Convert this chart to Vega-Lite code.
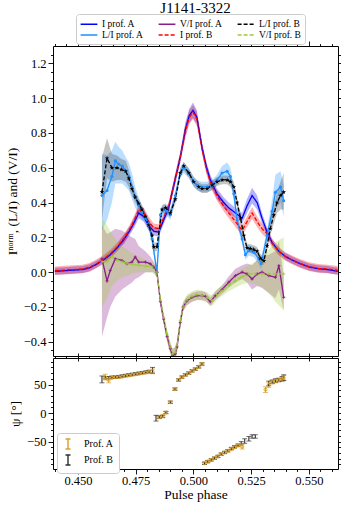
{
"$schema":"https://vega.github.io/schema/vega-lite/v6.json",
"padding":{"left":4,"right":0,"top":0,"bottom":0},
"background":"white",
"spacing":2,
"bounds":"flush",
"resolve":{"scale":{"color":"independent","fill":"independent","stroke":"independent","strokeDash":"independent"},"legend":{"color":"independent","strokeDash":"independent","fill":"independent","stroke":"independent"}},
"config":{
 "font":"Liberation Serif",
 "view":{"stroke":"#000","strokeWidth":1},
 "axis":{"grid":false,"domain":false,"ticks":true,"tickColor":"#000","tickWidth":0.9,"labelColor":"#000","titleColor":"#000","labelFont":"Liberation Serif","titleFont":"Liberation Serif","labelFontSize":12.5,"titleFontSize":13.5,"titleFontWeight":"normal","labelPadding":2,"tickSize":5},
 "legend":{"labelFont":"Liberation Serif","labelColor":"#000"},
 "title":{"font":"Liberation Serif","fontWeight":"normal","color":"#000"}
},
"datasets":{
"prof":[
{"ph":0.440,"s":"IA","v":0.005,"lo":-0.015,"hi":0.025},
{"ph":0.444,"s":"IA","v":0.008,"lo":-0.012,"hi":0.028},
{"ph":0.448,"s":"IA","v":0.012,"lo":-0.008,"hi":0.032},
{"ph":0.452,"s":"IA","v":0.015,"lo":-0.005,"hi":0.035},
{"ph":0.455,"s":"IA","v":0.025,"lo":0.005,"hi":0.045},
{"ph":0.458,"s":"IA","v":0.045,"lo":0.025,"hi":0.065},
{"ph":0.461,"s":"IA","v":0.07,"lo":0.05,"hi":0.09},
{"ph":0.464,"s":"IA","v":0.10,"lo":0.08,"hi":0.12},
{"ph":0.467,"s":"IA","v":0.14,"lo":0.12,"hi":0.16},
{"ph":0.470,"s":"IA","v":0.19,"lo":0.165,"hi":0.215},
{"ph":0.4725,"s":"IA","v":0.24,"lo":0.215,"hi":0.265},
{"ph":0.4745,"s":"IA","v":0.29,"lo":0.26,"hi":0.32},
{"ph":0.4763,"s":"IA","v":0.34,"lo":0.31,"hi":0.37},
{"ph":0.4785,"s":"IA","v":0.32,"lo":0.29,"hi":0.35},
{"ph":0.4806,"s":"IA","v":0.27,"lo":0.24,"hi":0.30},
{"ph":0.4828,"s":"IA","v":0.235,"lo":0.21,"hi":0.26},
{"ph":0.4850,"s":"IA","v":0.23,"lo":0.205,"hi":0.255},
{"ph":0.4871,"s":"IA","v":0.30,"lo":0.275,"hi":0.325},
{"ph":0.4893,"s":"IA","v":0.37,"lo":0.345,"hi":0.395},
{"ph":0.4915,"s":"IA","v":0.50,"lo":0.47,"hi":0.53},
{"ph":0.4943,"s":"IA","v":0.66,"lo":0.63,"hi":0.69},
{"ph":0.4965,"s":"IA","v":0.82,"lo":0.78,"hi":0.86},
{"ph":0.4982,"s":"IA","v":0.90,"lo":0.86,"hi":0.94},
{"ph":0.4998,"s":"IA","v":0.93,"lo":0.885,"hi":0.975},
{"ph":0.5015,"s":"IA","v":0.89,"lo":0.85,"hi":0.93},
{"ph":0.5037,"s":"IA","v":0.72,"lo":0.69,"hi":0.75},
{"ph":0.5055,"s":"IA","v":0.61,"lo":0.58,"hi":0.64},
{"ph":0.5073,"s":"IA","v":0.53,"lo":0.50,"hi":0.56},
{"ph":0.5102,"s":"IA","v":0.45,"lo":0.42,"hi":0.48},
{"ph":0.5131,"s":"IA","v":0.40,"lo":0.37,"hi":0.43},
{"ph":0.5153,"s":"IA","v":0.37,"lo":0.34,"hi":0.40},
{"ph":0.5182,"s":"IA","v":0.34,"lo":0.31,"hi":0.37},
{"ph":0.5211,"s":"IA","v":0.31,"lo":0.28,"hi":0.34},
{"ph":0.5232,"s":"IA","v":0.38,"lo":0.34,"hi":0.42},
{"ph":0.5254,"s":"IA","v":0.44,"lo":0.395,"hi":0.485},
{"ph":0.5276,"s":"IA","v":0.40,"lo":0.36,"hi":0.44},
{"ph":0.5297,"s":"IA","v":0.31,"lo":0.28,"hi":0.34},
{"ph":0.5319,"s":"IA","v":0.23,"lo":0.205,"hi":0.255},
{"ph":0.5341,"s":"IA","v":0.17,"lo":0.15,"hi":0.19},
{"ph":0.5370,"s":"IA","v":0.12,"lo":0.10,"hi":0.14},
{"ph":0.5398,"s":"IA","v":0.09,"lo":0.07,"hi":0.11},
{"ph":0.5427,"s":"IA","v":0.07,"lo":0.05,"hi":0.09},
{"ph":0.546,"s":"IA","v":0.05,"lo":0.03,"hi":0.07},
{"ph":0.550,"s":"IA","v":0.03,"lo":0.01,"hi":0.05},
{"ph":0.554,"s":"IA","v":0.02,"lo":0.0,"hi":0.04},
{"ph":0.558,"s":"IA","v":0.015,"lo":-0.005,"hi":0.035},
{"ph":0.5625,"s":"IA","v":0.005,"lo":-0.015,"hi":0.025},
{"ph":0.4604,"s":"LA","v":0.44,"lo":0.24,"hi":0.68},
{"ph":0.4626,"s":"LA","v":0.47,"lo":0.30,"hi":0.67},
{"ph":0.4647,"s":"LA","v":0.55,"lo":0.40,"hi":0.70},
{"ph":0.4662,"s":"LA","v":0.64,"lo":0.51,"hi":0.75},
{"ph":0.4677,"s":"LA","v":0.62,"lo":0.51,"hi":0.72},
{"ph":0.4692,"s":"LA","v":0.61,"lo":0.51,"hi":0.70},
{"ph":0.4707,"s":"LA","v":0.58,"lo":0.49,"hi":0.66},
{"ph":0.4720,"s":"LA","v":0.55,"lo":0.47,"hi":0.63},
{"ph":0.4734,"s":"LA","v":0.49,"lo":0.42,"hi":0.57},
{"ph":0.4748,"s":"LA","v":0.43,"lo":0.37,"hi":0.49},
{"ph":0.4763,"s":"LA","v":0.385,"lo":0.34,"hi":0.43},
{"ph":0.4777,"s":"LA","v":0.345,"lo":0.31,"hi":0.385},
{"ph":0.4792,"s":"LA","v":0.31,"lo":0.28,"hi":0.345},
{"ph":0.4806,"s":"LA","v":0.28,"lo":0.25,"hi":0.31},
{"ph":0.4821,"s":"LA","v":0.19,"lo":0.16,"hi":0.22},
{"ph":0.4842,"s":"LA","v":0.0,"lo":-0.025,"hi":0.03},
{"ph":0.4857,"s":"LA","v":0.33,"lo":0.30,"hi":0.36},
{"ph":0.4871,"s":"LA","v":0.36,"lo":0.33,"hi":0.39},
{"ph":0.4886,"s":"LA","v":0.35,"lo":0.32,"hi":0.38},
{"ph":0.4900,"s":"LA","v":0.33,"lo":0.30,"hi":0.36},
{"ph":0.4922,"s":"LA","v":0.44,"lo":0.41,"hi":0.47},
{"ph":0.4943,"s":"LA","v":0.57,"lo":0.54,"hi":0.60},
{"ph":0.4958,"s":"LA","v":0.60,"lo":0.57,"hi":0.63},
{"ph":0.4980,"s":"LA","v":0.57,"lo":0.54,"hi":0.60},
{"ph":0.5001,"s":"LA","v":0.52,"lo":0.49,"hi":0.55},
{"ph":0.5016,"s":"LA","v":0.50,"lo":0.47,"hi":0.53},
{"ph":0.5037,"s":"LA","v":0.49,"lo":0.46,"hi":0.52},
{"ph":0.5059,"s":"LA","v":0.49,"lo":0.46,"hi":0.52},
{"ph":0.5081,"s":"LA","v":0.50,"lo":0.47,"hi":0.53},
{"ph":0.5102,"s":"LA","v":0.53,"lo":0.50,"hi":0.56},
{"ph":0.5124,"s":"LA","v":0.57,"lo":0.53,"hi":0.61},
{"ph":0.5146,"s":"LA","v":0.58,"lo":0.54,"hi":0.63},
{"ph":0.5160,"s":"LA","v":0.55,"lo":0.51,"hi":0.60},
{"ph":0.5175,"s":"LA","v":0.45,"lo":0.41,"hi":0.49},
{"ph":0.5189,"s":"LA","v":0.30,"lo":0.27,"hi":0.33},
{"ph":0.5211,"s":"LA","v":0.19,"lo":0.16,"hi":0.22},
{"ph":0.5225,"s":"LA","v":0.10,"lo":0.07,"hi":0.13},
{"ph":0.5240,"s":"LA","v":0.125,"lo":0.095,"hi":0.155},
{"ph":0.5261,"s":"LA","v":0.115,"lo":0.085,"hi":0.145},
{"ph":0.5283,"s":"LA","v":0.077,"lo":0.045,"hi":0.11},
{"ph":0.5293,"s":"LA","v":0.048,"lo":0.015,"hi":0.08},
{"ph":0.5319,"s":"LA","v":0.21,"lo":0.17,"hi":0.25},
{"ph":0.5341,"s":"LA","v":0.35,"lo":0.28,"hi":0.42},
{"ph":0.5355,"s":"LA","v":0.46,"lo":0.36,"hi":0.56},
{"ph":0.5377,"s":"LA","v":0.49,"lo":0.40,"hi":0.58},
{"ph":0.5391,"s":"LA","v":0.41,"lo":0.32,"hi":0.50},
{"ph":0.4604,"s":"VA","v":0.077,"lo":-0.37,"hi":0.27},
{"ph":0.4626,"s":"VA","v":-0.05,"lo":-0.26,"hi":0.22},
{"ph":0.4640,"s":"VA","v":0.01,"lo":-0.20,"hi":0.23},
{"ph":0.4662,"s":"VA","v":0.077,"lo":-0.14,"hi":0.25},
{"ph":0.4691,"s":"VA","v":0.067,"lo":-0.10,"hi":0.24},
{"ph":0.4712,"s":"VA","v":0.048,"lo":-0.08,"hi":0.22},
{"ph":0.4734,"s":"VA","v":0.058,"lo":-0.06,"hi":0.20},
{"ph":0.4748,"s":"VA","v":0.087,"lo":-0.04,"hi":0.19},
{"ph":0.4763,"s":"VA","v":0.058,"lo":-0.03,"hi":0.15},
{"ph":0.4792,"s":"VA","v":0.058,"lo":0.0,"hi":0.12},
{"ph":0.4813,"s":"VA","v":0.048,"lo":0.0,"hi":0.09},
{"ph":0.4828,"s":"VA","v":0.03,"lo":0.0,"hi":0.06},
{"ph":0.4842,"s":"VA","v":0.0,"lo":-0.03,"hi":0.03},
{"ph":0.4857,"s":"VA","v":-0.17,"lo":-0.20,"hi":-0.14},
{"ph":0.4871,"s":"VA","v":-0.27,"lo":-0.30,"hi":-0.24},
{"ph":0.4886,"s":"VA","v":-0.37,"lo":-0.40,"hi":-0.34},
{"ph":0.4900,"s":"VA","v":-0.44,"lo":-0.47,"hi":-0.41},
{"ph":0.4910,"s":"VA","v":-0.48,"lo":-0.52,"hi":-0.44},
{"ph":0.4922,"s":"VA","v":-0.47,"lo":-0.51,"hi":-0.43},
{"ph":0.4929,"s":"VA","v":-0.43,"lo":-0.46,"hi":-0.40},
{"ph":0.4943,"s":"VA","v":-0.29,"lo":-0.32,"hi":-0.26},
{"ph":0.4955,"s":"VA","v":-0.20,"lo":-0.225,"hi":-0.175},
{"ph":0.4972,"s":"VA","v":-0.165,"lo":-0.19,"hi":-0.14},
{"ph":0.4994,"s":"VA","v":-0.145,"lo":-0.17,"hi":-0.12},
{"ph":0.5016,"s":"VA","v":-0.135,"lo":-0.16,"hi":-0.11},
{"ph":0.5037,"s":"VA","v":-0.135,"lo":-0.16,"hi":-0.11},
{"ph":0.5052,"s":"VA","v":-0.14,"lo":-0.165,"hi":-0.115},
{"ph":0.5073,"s":"VA","v":-0.17,"lo":-0.195,"hi":-0.145},
{"ph":0.5095,"s":"VA","v":-0.135,"lo":-0.16,"hi":-0.11},
{"ph":0.5124,"s":"VA","v":-0.10,"lo":-0.125,"hi":-0.075},
{"ph":0.5153,"s":"VA","v":-0.058,"lo":-0.09,"hi":-0.025},
{"ph":0.5182,"s":"VA","v":-0.02,"lo":-0.06,"hi":0.02},
{"ph":0.5211,"s":"VA","v":0.0,"lo":-0.04,"hi":0.04},
{"ph":0.5232,"s":"VA","v":-0.01,"lo":-0.06,"hi":0.05},
{"ph":0.5254,"s":"VA","v":-0.04,"lo":-0.10,"hi":0.04},
{"ph":0.5276,"s":"VA","v":-0.01,"lo":-0.08,"hi":0.07},
{"ph":0.5297,"s":"VA","v":0.0,"lo":-0.09,"hi":0.09},
{"ph":0.5326,"s":"VA","v":-0.02,"lo":-0.12,"hi":0.10},
{"ph":0.5355,"s":"VA","v":-0.03,"lo":-0.15,"hi":0.12},
{"ph":0.5370,"s":"VA","v":0.038,"lo":-0.10,"hi":0.18},
{"ph":0.5391,"s":"VA","v":-0.145,"lo":-0.22,"hi":-0.03},
{"ph":0.440,"s":"IB","v":0.008,"lo":-0.017,"hi":0.033},
{"ph":0.444,"s":"IB","v":0.012,"lo":-0.013,"hi":0.037},
{"ph":0.448,"s":"IB","v":0.015,"lo":-0.01,"hi":0.04},
{"ph":0.452,"s":"IB","v":0.018,"lo":-0.007,"hi":0.043},
{"ph":0.455,"s":"IB","v":0.028,"lo":0.003,"hi":0.053},
{"ph":0.458,"s":"IB","v":0.048,"lo":0.023,"hi":0.073},
{"ph":0.461,"s":"IB","v":0.073,"lo":0.048,"hi":0.098},
{"ph":0.464,"s":"IB","v":0.105,"lo":0.08,"hi":0.13},
{"ph":0.467,"s":"IB","v":0.145,"lo":0.12,"hi":0.17},
{"ph":0.470,"s":"IB","v":0.195,"lo":0.17,"hi":0.22},
{"ph":0.4725,"s":"IB","v":0.25,"lo":0.225,"hi":0.275},
{"ph":0.4745,"s":"IB","v":0.30,"lo":0.27,"hi":0.33},
{"ph":0.4763,"s":"IB","v":0.36,"lo":0.33,"hi":0.39},
{"ph":0.4785,"s":"IB","v":0.34,"lo":0.31,"hi":0.37},
{"ph":0.4806,"s":"IB","v":0.29,"lo":0.26,"hi":0.32},
{"ph":0.4828,"s":"IB","v":0.255,"lo":0.23,"hi":0.28},
{"ph":0.4850,"s":"IB","v":0.25,"lo":0.225,"hi":0.275},
{"ph":0.4871,"s":"IB","v":0.31,"lo":0.285,"hi":0.335},
{"ph":0.4893,"s":"IB","v":0.38,"lo":0.355,"hi":0.405},
{"ph":0.4915,"s":"IB","v":0.50,"lo":0.47,"hi":0.53},
{"ph":0.4943,"s":"IB","v":0.66,"lo":0.63,"hi":0.69},
{"ph":0.4965,"s":"IB","v":0.81,"lo":0.77,"hi":0.85},
{"ph":0.4982,"s":"IB","v":0.89,"lo":0.85,"hi":0.93},
{"ph":0.4998,"s":"IB","v":0.92,"lo":0.88,"hi":0.96},
{"ph":0.5015,"s":"IB","v":0.88,"lo":0.84,"hi":0.92},
{"ph":0.5037,"s":"IB","v":0.71,"lo":0.68,"hi":0.74},
{"ph":0.5055,"s":"IB","v":0.60,"lo":0.57,"hi":0.63},
{"ph":0.5073,"s":"IB","v":0.52,"lo":0.49,"hi":0.55},
{"ph":0.5102,"s":"IB","v":0.44,"lo":0.41,"hi":0.47},
{"ph":0.5131,"s":"IB","v":0.38,"lo":0.35,"hi":0.41},
{"ph":0.5153,"s":"IB","v":0.34,"lo":0.31,"hi":0.37},
{"ph":0.5182,"s":"IB","v":0.29,"lo":0.26,"hi":0.32},
{"ph":0.5211,"s":"IB","v":0.24,"lo":0.21,"hi":0.27},
{"ph":0.5232,"s":"IB","v":0.29,"lo":0.26,"hi":0.32},
{"ph":0.5254,"s":"IB","v":0.34,"lo":0.305,"hi":0.375},
{"ph":0.5276,"s":"IB","v":0.29,"lo":0.26,"hi":0.32},
{"ph":0.5297,"s":"IB","v":0.25,"lo":0.22,"hi":0.28},
{"ph":0.5319,"s":"IB","v":0.22,"lo":0.195,"hi":0.245},
{"ph":0.5341,"s":"IB","v":0.165,"lo":0.14,"hi":0.19},
{"ph":0.5370,"s":"IB","v":0.12,"lo":0.095,"hi":0.145},
{"ph":0.5398,"s":"IB","v":0.09,"lo":0.065,"hi":0.115},
{"ph":0.5427,"s":"IB","v":0.07,"lo":0.045,"hi":0.095},
{"ph":0.546,"s":"IB","v":0.05,"lo":0.025,"hi":0.075},
{"ph":0.550,"s":"IB","v":0.032,"lo":0.007,"hi":0.057},
{"ph":0.554,"s":"IB","v":0.022,"lo":-0.003,"hi":0.047},
{"ph":0.558,"s":"IB","v":0.018,"lo":-0.007,"hi":0.043},
{"ph":0.5625,"s":"IB","v":0.01,"lo":-0.015,"hi":0.035},
{"ph":0.4604,"s":"LB","v":0.46,"lo":0.30,"hi":0.66},
{"ph":0.4626,"s":"LB","v":0.655,"lo":0.54,"hi":0.77},
{"ph":0.4647,"s":"LB","v":0.60,"lo":0.52,"hi":0.68},
{"ph":0.4669,"s":"LB","v":0.60,"lo":0.53,"hi":0.67},
{"ph":0.4688,"s":"LB","v":0.59,"lo":0.53,"hi":0.65},
{"ph":0.4707,"s":"LB","v":0.58,"lo":0.52,"hi":0.64},
{"ph":0.4720,"s":"LB","v":0.54,"lo":0.49,"hi":0.59},
{"ph":0.4734,"s":"LB","v":0.48,"lo":0.44,"hi":0.52},
{"ph":0.4748,"s":"LB","v":0.43,"lo":0.40,"hi":0.46},
{"ph":0.4763,"s":"LB","v":0.395,"lo":0.37,"hi":0.42},
{"ph":0.4777,"s":"LB","v":0.36,"lo":0.335,"hi":0.385},
{"ph":0.4792,"s":"LB","v":0.32,"lo":0.295,"hi":0.345},
{"ph":0.4806,"s":"LB","v":0.27,"lo":0.245,"hi":0.295},
{"ph":0.4821,"s":"LB","v":0.21,"lo":0.185,"hi":0.235},
{"ph":0.4828,"s":"LB","v":0.145,"lo":0.12,"hi":0.17},
{"ph":0.4842,"s":"LB","v":0.145,"lo":0.12,"hi":0.17},
{"ph":0.4864,"s":"LB","v":0.36,"lo":0.335,"hi":0.385},
{"ph":0.4879,"s":"LB","v":0.37,"lo":0.345,"hi":0.395},
{"ph":0.4900,"s":"LB","v":0.34,"lo":0.315,"hi":0.365},
{"ph":0.4922,"s":"LB","v":0.42,"lo":0.395,"hi":0.445},
{"ph":0.4943,"s":"LB","v":0.57,"lo":0.545,"hi":0.595},
{"ph":0.4958,"s":"LB","v":0.61,"lo":0.585,"hi":0.635},
{"ph":0.4980,"s":"LB","v":0.57,"lo":0.545,"hi":0.595},
{"ph":0.5001,"s":"LB","v":0.52,"lo":0.495,"hi":0.545},
{"ph":0.5023,"s":"LB","v":0.49,"lo":0.465,"hi":0.515},
{"ph":0.5037,"s":"LB","v":0.48,"lo":0.455,"hi":0.505},
{"ph":0.5059,"s":"LB","v":0.48,"lo":0.455,"hi":0.505},
{"ph":0.5081,"s":"LB","v":0.50,"lo":0.475,"hi":0.525},
{"ph":0.5102,"s":"LB","v":0.52,"lo":0.495,"hi":0.545},
{"ph":0.5124,"s":"LB","v":0.53,"lo":0.505,"hi":0.555},
{"ph":0.5146,"s":"LB","v":0.53,"lo":0.505,"hi":0.555},
{"ph":0.5160,"s":"LB","v":0.52,"lo":0.49,"hi":0.55},
{"ph":0.5175,"s":"LB","v":0.49,"lo":0.46,"hi":0.52},
{"ph":0.5189,"s":"LB","v":0.40,"lo":0.37,"hi":0.43},
{"ph":0.5204,"s":"LB","v":0.31,"lo":0.285,"hi":0.335},
{"ph":0.5218,"s":"LB","v":0.21,"lo":0.185,"hi":0.235},
{"ph":0.5232,"s":"LB","v":0.14,"lo":0.115,"hi":0.165},
{"ph":0.5247,"s":"LB","v":0.135,"lo":0.11,"hi":0.16},
{"ph":0.5261,"s":"LB","v":0.13,"lo":0.105,"hi":0.155},
{"ph":0.5276,"s":"LB","v":0.12,"lo":0.095,"hi":0.145},
{"ph":0.5290,"s":"LB","v":0.08,"lo":0.055,"hi":0.105},
{"ph":0.5305,"s":"LB","v":0.065,"lo":0.04,"hi":0.09},
{"ph":0.5319,"s":"LB","v":0.15,"lo":0.12,"hi":0.18},
{"ph":0.5333,"s":"LB","v":0.25,"lo":0.21,"hi":0.29},
{"ph":0.5348,"s":"LB","v":0.33,"lo":0.28,"hi":0.38},
{"ph":0.5362,"s":"LB","v":0.40,"lo":0.34,"hi":0.46},
{"ph":0.5377,"s":"LB","v":0.44,"lo":0.36,"hi":0.52},
{"ph":0.5391,"s":"LB","v":0.46,"lo":0.36,"hi":0.57},
{"ph":0.4604,"s":"VB","v":0.06,"lo":-0.20,"hi":0.31},
{"ph":0.4626,"s":"VB","v":0.06,"lo":-0.15,"hi":0.27},
{"ph":0.4647,"s":"VB","v":0.09,"lo":-0.08,"hi":0.22},
{"ph":0.4669,"s":"VB","v":0.07,"lo":-0.05,"hi":0.18},
{"ph":0.4691,"s":"VB","v":0.06,"lo":-0.03,"hi":0.15},
{"ph":0.4712,"s":"VB","v":0.05,"lo":-0.02,"hi":0.13},
{"ph":0.4734,"s":"VB","v":0.045,"lo":-0.01,"hi":0.11},
{"ph":0.4763,"s":"VB","v":0.04,"lo":0.0,"hi":0.09},
{"ph":0.4792,"s":"VB","v":0.035,"lo":0.0,"hi":0.07},
{"ph":0.4821,"s":"VB","v":0.03,"lo":0.0,"hi":0.06},
{"ph":0.4842,"s":"VB","v":0.0,"lo":-0.03,"hi":0.03},
{"ph":0.4857,"s":"VB","v":-0.16,"lo":-0.19,"hi":-0.13},
{"ph":0.4871,"s":"VB","v":-0.26,"lo":-0.29,"hi":-0.23},
{"ph":0.4886,"s":"VB","v":-0.36,"lo":-0.39,"hi":-0.33},
{"ph":0.4900,"s":"VB","v":-0.43,"lo":-0.46,"hi":-0.40},
{"ph":0.4910,"s":"VB","v":-0.47,"lo":-0.50,"hi":-0.44},
{"ph":0.4922,"s":"VB","v":-0.46,"lo":-0.49,"hi":-0.43},
{"ph":0.4929,"s":"VB","v":-0.42,"lo":-0.45,"hi":-0.39},
{"ph":0.4943,"s":"VB","v":-0.28,"lo":-0.31,"hi":-0.25},
{"ph":0.4955,"s":"VB","v":-0.20,"lo":-0.23,"hi":-0.17},
{"ph":0.4972,"s":"VB","v":-0.16,"lo":-0.19,"hi":-0.13},
{"ph":0.4994,"s":"VB","v":-0.14,"lo":-0.17,"hi":-0.11},
{"ph":0.5016,"s":"VB","v":-0.13,"lo":-0.16,"hi":-0.10},
{"ph":0.5037,"s":"VB","v":-0.135,"lo":-0.165,"hi":-0.105},
{"ph":0.5059,"s":"VB","v":-0.145,"lo":-0.175,"hi":-0.115},
{"ph":0.5081,"s":"VB","v":-0.165,"lo":-0.195,"hi":-0.135},
{"ph":0.5102,"s":"VB","v":-0.13,"lo":-0.16,"hi":-0.10},
{"ph":0.5124,"s":"VB","v":-0.105,"lo":-0.135,"hi":-0.075},
{"ph":0.5153,"s":"VB","v":-0.075,"lo":-0.11,"hi":-0.04},
{"ph":0.5182,"s":"VB","v":-0.05,"lo":-0.09,"hi":-0.01},
{"ph":0.5211,"s":"VB","v":-0.025,"lo":-0.07,"hi":0.02},
{"ph":0.5240,"s":"VB","v":-0.01,"lo":-0.06,"hi":0.04},
{"ph":0.5268,"s":"VB","v":-0.01,"lo":-0.07,"hi":0.06},
{"ph":0.5297,"s":"VB","v":-0.01,"lo":-0.09,"hi":0.09},
{"ph":0.5326,"s":"VB","v":-0.01,"lo":-0.12,"hi":0.13},
{"ph":0.5355,"s":"VB","v":-0.01,"lo":-0.17,"hi":0.17},
{"ph":0.5391,"s":"VB","v":-0.01,"lo":-0.22,"hi":0.20}
],
"pa":[
{"ph":0.4618,"p":"Prof. A","psi":63,"lo":58,"hi":68},
{"ph":0.4633,"p":"Prof. A","psi":58,"lo":53,"hi":63},
{"ph":0.4647,"p":"Prof. A","psi":62,"lo":60,"hi":64},
{"ph":0.4662,"p":"Prof. A","psi":63,"lo":61,"hi":65},
{"ph":0.4677,"p":"Prof. A","psi":63,"lo":61,"hi":65},
{"ph":0.4691,"p":"Prof. A","psi":64,"lo":62,"hi":66},
{"ph":0.4706,"p":"Prof. A","psi":65,"lo":63,"hi":67},
{"ph":0.4720,"p":"Prof. A","psi":66,"lo":64,"hi":68},
{"ph":0.4735,"p":"Prof. A","psi":67,"lo":65,"hi":69},
{"ph":0.4750,"p":"Prof. A","psi":68,"lo":66,"hi":70},
{"ph":0.4764,"p":"Prof. A","psi":69,"lo":67,"hi":71},
{"ph":0.4779,"p":"Prof. A","psi":70,"lo":68,"hi":72},
{"ph":0.4794,"p":"Prof. A","psi":71,"lo":69,"hi":73},
{"ph":0.4808,"p":"Prof. A","psi":72,"lo":70,"hi":75},
{"ph":0.4823,"p":"Prof. A","psi":73,"lo":69,"hi":77},
{"ph":0.4852,"p":"Prof. A","psi":-7,"lo":-10,"hi":-4},
{"ph":0.4867,"p":"Prof. A","psi":-5,"lo":-7,"hi":-3},
{"ph":0.4881,"p":"Prof. A","psi":1,"lo":-1,"hi":3},
{"ph":0.4900,"p":"Prof. A","psi":19,"lo":17,"hi":21},
{"ph":0.4920,"p":"Prof. A","psi":42,"lo":40,"hi":44},
{"ph":0.4936,"p":"Prof. A","psi":58,"lo":56,"hi":60},
{"ph":0.4950,"p":"Prof. A","psi":63,"lo":61,"hi":65},
{"ph":0.4965,"p":"Prof. A","psi":67,"lo":65,"hi":69},
{"ph":0.4980,"p":"Prof. A","psi":70,"lo":68,"hi":72},
{"ph":0.4994,"p":"Prof. A","psi":74,"lo":72,"hi":76},
{"ph":0.5008,"p":"Prof. A","psi":77,"lo":75,"hi":79},
{"ph":0.5023,"p":"Prof. A","psi":81,"lo":79,"hi":83},
{"ph":0.5037,"p":"Prof. A","psi":86,"lo":84,"hi":88},
{"ph":0.5048,"p":"Prof. A","psi":-88,"lo":-90,"hi":-86},
{"ph":0.5062,"p":"Prof. A","psi":-85,"lo":-87,"hi":-83},
{"ph":0.5077,"p":"Prof. A","psi":-82,"lo":-84,"hi":-80},
{"ph":0.5091,"p":"Prof. A","psi":-79,"lo":-81,"hi":-77},
{"ph":0.5106,"p":"Prof. A","psi":-76,"lo":-78,"hi":-74},
{"ph":0.5120,"p":"Prof. A","psi":-72,"lo":-74,"hi":-70},
{"ph":0.5135,"p":"Prof. A","psi":-69,"lo":-71,"hi":-67},
{"ph":0.5149,"p":"Prof. A","psi":-66,"lo":-68,"hi":-64},
{"ph":0.5164,"p":"Prof. A","psi":-63,"lo":-65,"hi":-61},
{"ph":0.5178,"p":"Prof. A","psi":-60,"lo":-62,"hi":-58},
{"ph":0.5193,"p":"Prof. A","psi":-57,"lo":-59,"hi":-55},
{"ph":0.5211,"p":"Prof. A","psi":-59,"lo":-63,"hi":-55},
{"ph":0.5312,"p":"Prof. A","psi":41,"lo":36,"hi":46},
{"ph":0.5326,"p":"Prof. A","psi":49,"lo":45,"hi":53},
{"ph":0.5341,"p":"Prof. A","psi":54,"lo":51,"hi":57},
{"ph":0.5355,"p":"Prof. A","psi":56,"lo":53,"hi":59},
{"ph":0.5370,"p":"Prof. A","psi":58,"lo":55,"hi":61},
{"ph":0.5384,"p":"Prof. A","psi":60,"lo":57,"hi":63},
{"ph":0.5391,"p":"Prof. A","psi":62,"lo":58,"hi":66},
{"ph":0.4604,"p":"Prof. B","psi":59,"lo":53,"hi":65},
{"ph":0.4618,"p":"Prof. B","psi":62,"lo":60,"hi":64},
{"ph":0.4633,"p":"Prof. B","psi":62,"lo":60,"hi":64},
{"ph":0.4647,"p":"Prof. B","psi":63,"lo":61,"hi":65},
{"ph":0.4662,"p":"Prof. B","psi":63,"lo":61,"hi":65},
{"ph":0.4677,"p":"Prof. B","psi":64,"lo":62,"hi":66},
{"ph":0.4691,"p":"Prof. B","psi":65,"lo":63,"hi":67},
{"ph":0.4706,"p":"Prof. B","psi":66,"lo":64,"hi":68},
{"ph":0.4720,"p":"Prof. B","psi":67,"lo":65,"hi":69},
{"ph":0.4735,"p":"Prof. B","psi":68,"lo":66,"hi":70},
{"ph":0.4750,"p":"Prof. B","psi":69,"lo":67,"hi":71},
{"ph":0.4764,"p":"Prof. B","psi":70,"lo":68,"hi":72},
{"ph":0.4779,"p":"Prof. B","psi":71,"lo":69,"hi":73},
{"ph":0.4794,"p":"Prof. B","psi":72,"lo":70,"hi":74},
{"ph":0.4808,"p":"Prof. B","psi":73,"lo":71,"hi":75},
{"ph":0.4823,"p":"Prof. B","psi":75,"lo":70,"hi":80},
{"ph":0.4838,"p":"Prof. B","psi":-9,"lo":-14,"hi":-4},
{"ph":0.4852,"p":"Prof. B","psi":-7,"lo":-9,"hi":-5},
{"ph":0.4867,"p":"Prof. B","psi":-6,"lo":-8,"hi":-4},
{"ph":0.4881,"p":"Prof. B","psi":1,"lo":-1,"hi":3},
{"ph":0.4900,"p":"Prof. B","psi":19,"lo":17,"hi":21},
{"ph":0.4920,"p":"Prof. B","psi":42,"lo":40,"hi":44},
{"ph":0.4936,"p":"Prof. B","psi":58,"lo":56,"hi":60},
{"ph":0.4950,"p":"Prof. B","psi":63,"lo":61,"hi":65},
{"ph":0.4965,"p":"Prof. B","psi":67,"lo":65,"hi":69},
{"ph":0.4980,"p":"Prof. B","psi":70,"lo":68,"hi":72},
{"ph":0.4994,"p":"Prof. B","psi":74,"lo":72,"hi":76},
{"ph":0.5008,"p":"Prof. B","psi":77,"lo":75,"hi":79},
{"ph":0.5023,"p":"Prof. B","psi":81,"lo":79,"hi":83},
{"ph":0.5037,"p":"Prof. B","psi":86,"lo":84,"hi":88},
{"ph":0.5048,"p":"Prof. B","psi":-88,"lo":-90,"hi":-86},
{"ph":0.5062,"p":"Prof. B","psi":-85,"lo":-87,"hi":-83},
{"ph":0.5077,"p":"Prof. B","psi":-82,"lo":-84,"hi":-80},
{"ph":0.5091,"p":"Prof. B","psi":-79,"lo":-81,"hi":-77},
{"ph":0.5106,"p":"Prof. B","psi":-76,"lo":-78,"hi":-74},
{"ph":0.5120,"p":"Prof. B","psi":-72,"lo":-74,"hi":-70},
{"ph":0.5135,"p":"Prof. B","psi":-69,"lo":-71,"hi":-67},
{"ph":0.5149,"p":"Prof. B","psi":-66,"lo":-68,"hi":-64},
{"ph":0.5164,"p":"Prof. B","psi":-62,"lo":-64,"hi":-60},
{"ph":0.5178,"p":"Prof. B","psi":-59,"lo":-61,"hi":-57},
{"ph":0.5193,"p":"Prof. B","psi":-56,"lo":-58,"hi":-54},
{"ph":0.5207,"p":"Prof. B","psi":-53,"lo":-56,"hi":-50},
{"ph":0.5222,"p":"Prof. B","psi":-49,"lo":-53,"hi":-45},
{"ph":0.5240,"p":"Prof. B","psi":-45,"lo":-49,"hi":-41},
{"ph":0.5254,"p":"Prof. B","psi":-41,"lo":-44,"hi":-38},
{"ph":0.5268,"p":"Prof. B","psi":-41,"lo":-44,"hi":-38},
{"ph":0.5326,"p":"Prof. B","psi":52,"lo":48,"hi":56},
{"ph":0.5341,"p":"Prof. B","psi":55,"lo":52,"hi":58},
{"ph":0.5355,"p":"Prof. B","psi":57,"lo":54,"hi":60},
{"ph":0.5370,"p":"Prof. B","psi":58,"lo":55,"hi":61},
{"ph":0.5384,"p":"Prof. B","psi":60,"lo":56,"hi":64},
{"ph":0.5391,"p":"Prof. B","psi":62,"lo":57,"hi":67}
]
},
"vconcat":[
{
 "width":285,"height":310,
 "title":{"text":"J1141-3322","fontSize":15,"offset":-2},
 "data":{"name":"prof"},
 "resolve":{"axis":{"x":"independent","y":"independent"}},
 "layer":[
  {"mark":{"type":"point","opacity":0},"encoding":{
   "x":{"field":"ph","type":"quantitative","scale":{"domain":[0.4392,0.5626],"nice":false,"zero":false},"axis":{"orient":"bottom","values":[0.45,0.475,0.5,0.525,0.55],"labels":false,"title":null}},
   "y":{"field":"v","type":"quantitative","scale":{"domain":[-0.482,1.3],"nice":false,"zero":false},"axis":{"orient":"left","values":[-0.4,-0.2,0,0.2,0.4,0.6,0.8,1,1.2],"format":".1f","title":"Iⁿᵒʳᵐ, (L/I) and (V/I)","titlePadding":4}}}},
  {"mark":{"type":"point","opacity":0},"encoding":{
   "x":{"field":"ph","type":"quantitative","scale":{"domain":[0.4392,0.5626],"nice":false,"zero":false},"axis":{"orient":"top","values":[0.45,0.475,0.5,0.525,0.55],"labels":false,"title":null}},
   "y":{"field":"v","type":"quantitative","scale":{"domain":[-0.482,1.3],"nice":false,"zero":false},"axis":{"orient":"right","values":[-0.4,-0.2,0,0.2,0.4,0.6,0.8,1,1.2],"labels":false,"title":null}}}},
  {"mark":{"type":"point","opacity":0},"encoding":{
   "x":{"field":"ph","type":"quantitative","scale":{"domain":[0.4392,0.5626],"nice":false,"zero":false},"axis":{"orient":"bottom","values":[0.44,0.445,0.455,0.46,0.465,0.47,0.48,0.485,0.49,0.495,0.505,0.51,0.515,0.52,0.53,0.535,0.54,0.545,0.555,0.56],"labels":false,"title":null,"tickSize":2.5}},
   "y":{"field":"v","type":"quantitative","scale":{"domain":[-0.482,1.3],"nice":false,"zero":false},"axis":{"orient":"left","values":[-0.45,-0.35,-0.3,-0.25,-0.15,-0.1,-0.05,0.05,0.1,0.15,0.25,0.3,0.35,0.45,0.5,0.55,0.65,0.7,0.75,0.85,0.9,0.95,1.05,1.1,1.15,1.25],"labels":false,"title":null,"tickSize":2.5}}}},
  {"mark":{"type":"point","opacity":0},"encoding":{
   "x":{"field":"ph","type":"quantitative","scale":{"domain":[0.4392,0.5626],"nice":false,"zero":false},"axis":{"orient":"top","values":[0.44,0.445,0.455,0.46,0.465,0.47,0.48,0.485,0.49,0.495,0.505,0.51,0.515,0.52,0.53,0.535,0.54,0.545,0.555,0.56],"labels":false,"title":null,"tickSize":2.5}},
   "y":{"field":"v","type":"quantitative","scale":{"domain":[-0.482,1.3],"nice":false,"zero":false},"axis":{"orient":"right","values":[-0.45,-0.35,-0.3,-0.25,-0.15,-0.1,-0.05,0.05,0.1,0.15,0.25,0.3,0.35,0.45,0.5,0.55,0.65,0.7,0.75,0.85,0.9,0.95,1.05,1.1,1.15,1.25],"labels":false,"title":null,"tickSize":2.5}}}},
  {"mark":{"type":"area","clip":true,"opacity":0.3},"encoding":{
   "x":{"field":"ph","type":"quantitative","scale":{"domain":[0.4392,0.5626],"nice":false,"zero":false},"axis":null},
   "y":{"field":"lo","type":"quantitative","scale":{"domain":[-0.482,1.3],"nice":false,"zero":false},"axis":null},
   "y2":{"field":"hi"},
   "fill":{"field":"s","type":"nominal","scale":{"domain":["IA","LA","VA","IB","LB","VB"],"range":["#0000ff","#1e90ff","#8b1a8b","#ff0000","#404040","#9acd32"]},"legend":null}}},
  {"mark":{"type":"line","clip":true,"strokeWidth":1.3},"encoding":{
   "x":{"field":"ph","type":"quantitative","scale":{"domain":[0.4392,0.5626],"nice":false,"zero":false},"axis":null},
   "y":{"field":"v","type":"quantitative","scale":{"domain":[-0.482,1.3],"nice":false,"zero":false},"axis":null},
   "color":{"field":"s","type":"nominal","scale":{"domain":["IA","VA","LB","LA","IB","VB"],"range":["#0000ff","#8b1a8b","#000000","#1e90ff","#ff0000","#9acd32"]},
     "legend":{"orient":"none","legendX":23,"legendY":-32,"direction":"horizontal","columns":3,"title":null,"symbolType":"M-1.6,0H1.6","symbolSize":110,"symbolStrokeWidth":1.5,"symbolOffset":3,"labelFontSize":9.5,"labelOffset":7,"columnPadding":11,"rowPadding":0,"padding":4,"strokeColor":"#cccccc","fillColor":"#ffffff","cornerRadius":3,
       "labelExpr":"datum.label=='IA'?'I prof. A':datum.label=='VA'?'V/I prof. A':datum.label=='LB'?'L/I prof. B':datum.label=='LA'?'L/I prof. A':datum.label=='IB'?'I prof. B':'V/I prof. B'"}},
   "strokeDash":{"field":"s","type":"nominal","scale":{"domain":["IA","VA","LB","LA","IB","VB"],"range":[[1,0],[1,0],[4,2],[1,0],[4,2],[4,2]]},
     "legend":{"orient":"none","legendX":23,"legendY":-32,"direction":"horizontal","columns":3,"title":null,"symbolType":"M-1.6,0H1.6","symbolSize":110,"symbolStrokeWidth":1.5,"symbolOffset":3,"labelFontSize":9.5,"labelOffset":7,"columnPadding":11,"rowPadding":0,"padding":4,"strokeColor":"#cccccc","fillColor":"#ffffff","cornerRadius":3,
       "labelExpr":"datum.label=='IA'?'I prof. A':datum.label=='VA'?'V/I prof. A':datum.label=='LB'?'L/I prof. B':datum.label=='LA'?'L/I prof. A':datum.label=='IB'?'I prof. B':'V/I prof. B'"}}}},
  {"transform":[{"filter":"datum.s=='LA'"}],"mark":{"type":"point","filled":true,"color":"#1e90ff","size":9,"opacity":1,"clip":true},"encoding":{
   "x":{"field":"ph","type":"quantitative","scale":{"domain":[0.4392,0.5626],"nice":false,"zero":false},"axis":null},
   "y":{"field":"v","type":"quantitative","scale":{"domain":[-0.482,1.3],"nice":false,"zero":false},"axis":null}}},
  {"transform":[{"filter":"datum.s=='VA'||datum.s=='VB'"}],"mark":{"type":"point","filled":false,"shape":"M0,-1V1M-1,0H1","size":10,"strokeWidth":0.8,"opacity":1,"clip":true},"encoding":{
   "x":{"field":"ph","type":"quantitative","scale":{"domain":[0.4392,0.5626],"nice":false,"zero":false},"axis":null},
   "y":{"field":"v","type":"quantitative","scale":{"domain":[-0.482,1.3],"nice":false,"zero":false},"axis":null},
   "stroke":{"field":"s","type":"nominal","scale":{"domain":["VA","VB"],"range":["#8b1a8b","#9acd32"]},"legend":null}}},
  {"transform":[{"filter":"datum.s=='LB'"}],"mark":{"type":"point","filled":true,"color":"#000000","size":24,"opacity":1,"clip":true,"shape":"M0,-1L0.225,-0.309L0.951,-0.309L0.363,0.118L0.588,0.809L0,0.382L-0.588,0.809L-0.363,0.118L-0.951,-0.309L-0.225,-0.309Z"},"encoding":{
   "x":{"field":"ph","type":"quantitative","scale":{"domain":[0.4392,0.5626],"nice":false,"zero":false},"axis":null},
   "y":{"field":"v","type":"quantitative","scale":{"domain":[-0.482,1.3],"nice":false,"zero":false},"axis":null}}}
 ]
},
{
 "width":285,"height":111,
 "data":{"name":"pa"},
 "resolve":{"axis":{"x":"independent","y":"independent"}},
 "layer":[
  {"mark":{"type":"point","opacity":0},"encoding":{
   "x":{"field":"ph","type":"quantitative","scale":{"domain":[0.4392,0.5626],"nice":false,"zero":false},"axis":{"orient":"bottom","values":[0.45,0.475,0.5,0.525,0.55],"format":".3f","labelPadding":0,"title":"Pulse phase","titlePadding":1}},
   "y":{"field":"psi","type":"quantitative","scale":{"domain":[-98,96.5],"nice":false,"zero":false},"axis":{"orient":"left","values":[-50,0,50],"format":"d","title":"ψ [°]","titlePadding":4}}}},
  {"mark":{"type":"point","opacity":0},"encoding":{
   "x":{"field":"ph","type":"quantitative","scale":{"domain":[0.4392,0.5626],"nice":false,"zero":false},"axis":{"orient":"top","values":[0.45,0.475,0.5,0.525,0.55],"labels":false,"title":null}},
   "y":{"field":"psi","type":"quantitative","scale":{"domain":[-98,96.5],"nice":false,"zero":false},"axis":{"orient":"right","values":[-50,0,50],"labels":false,"title":null}}}},
  {"mark":{"type":"point","opacity":0},"encoding":{
   "x":{"field":"ph","type":"quantitative","scale":{"domain":[0.4392,0.5626],"nice":false,"zero":false},"axis":{"orient":"bottom","values":[0.44,0.445,0.455,0.46,0.465,0.47,0.48,0.485,0.49,0.495,0.505,0.51,0.515,0.52,0.53,0.535,0.54,0.545,0.555,0.56],"labels":false,"title":null,"tickSize":2.5}},
   "y":{"field":"psi","type":"quantitative","scale":{"domain":[-98,96.5],"nice":false,"zero":false},"axis":{"orient":"left","values":[-90,-80,-70,-60,-40,-30,-20,-10,10,20,30,40,60,70,80,90],"labels":false,"title":null,"tickSize":2.5}}}},
  {"mark":{"type":"point","opacity":0},"encoding":{
   "x":{"field":"ph","type":"quantitative","scale":{"domain":[0.4392,0.5626],"nice":false,"zero":false},"axis":{"orient":"top","values":[0.44,0.445,0.455,0.46,0.465,0.47,0.48,0.485,0.49,0.495,0.505,0.51,0.515,0.52,0.53,0.535,0.54,0.545,0.555,0.56],"labels":false,"title":null,"tickSize":2.5}},
   "y":{"field":"psi","type":"quantitative","scale":{"domain":[-98,96.5],"nice":false,"zero":false},"axis":{"orient":"right","values":[-90,-80,-70,-60,-40,-30,-20,-10,10,20,30,40,60,70,80,90],"labels":false,"title":null,"tickSize":2.5}}}},
  {"mark":{"type":"rule","clip":true,"strokeWidth":1.1},"encoding":{
   "x":{"field":"ph","type":"quantitative","scale":{"domain":[0.4392,0.5626],"nice":false,"zero":false},"axis":null},
   "y":{"field":"lo","type":"quantitative","scale":{"domain":[-98,96.5],"nice":false,"zero":false},"axis":null},
   "y2":{"field":"hi"},
   "color":{"field":"p","type":"nominal","scale":{"domain":["Prof. A","Prof. B"],"range":["#d9a02a","#303030"]},
     "legend":{"orient":"none","legendX":4,"legendY":75,"title":null,"symbolType":"M-0.5,-1H0.5M0,-1V1M-0.5,1H0.5","symbolSize":100,"symbolStrokeWidth":1.4,"labelFontSize":10,"labelOffset":10,"padding":5,"rowPadding":0,"strokeColor":"#cccccc","fillColor":"#ffffff","cornerRadius":3}}}},
  {"mark":{"type":"tick","orient":"horizontal","size":5,"thickness":1,"clip":true},"encoding":{
   "x":{"field":"ph","type":"quantitative","scale":{"domain":[0.4392,0.5626],"nice":false,"zero":false},"axis":null},
   "y":{"field":"lo","type":"quantitative","scale":{"domain":[-98,96.5],"nice":false,"zero":false},"axis":null},
   "fill":{"field":"p","type":"nominal","scale":{"domain":["Prof. A","Prof. B"],"range":["#d9a02a","#303030"]},"legend":null}}},
  {"mark":{"type":"tick","orient":"horizontal","size":5,"thickness":1,"clip":true},"encoding":{
   "x":{"field":"ph","type":"quantitative","scale":{"domain":[0.4392,0.5626],"nice":false,"zero":false},"axis":null},
   "y":{"field":"hi","type":"quantitative","scale":{"domain":[-98,96.5],"nice":false,"zero":false},"axis":null},
   "fill":{"field":"p","type":"nominal","scale":{"domain":["Prof. A","Prof. B"],"range":["#d9a02a","#303030"]},"legend":null}}},
  {"transform":[{"filter":"datum.p=='Prof. A'"}],"mark":{"type":"point","filled":false,"color":"#d9a02a","size":9,"strokeWidth":0.9,"opacity":1,"clip":true},"encoding":{
   "x":{"field":"ph","type":"quantitative","scale":{"domain":[0.4392,0.5626],"nice":false,"zero":false},"axis":null},
   "y":{"field":"psi","type":"quantitative","scale":{"domain":[-98,96.5],"nice":false,"zero":false},"axis":null}}}
 ]
}
]
}
